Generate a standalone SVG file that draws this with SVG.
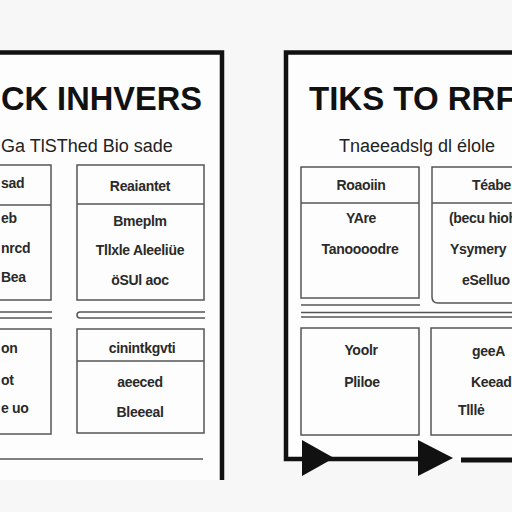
<svg xmlns="http://www.w3.org/2000/svg" width="512" height="512" viewBox="0 0 512 512">
<style>
.bx{fill:#fdfdfd;stroke:#555;stroke-width:1.5}
.ln{fill:none;stroke:#555;stroke-width:1.5}
.fr{fill:none;stroke:#111;stroke-width:4.5}
.t{font-family:"Liberation Sans",Arial,sans-serif;font-size:14px;fill:#2a2a2a;font-weight:bold;letter-spacing:-0.3px}
.h{font-family:"Liberation Sans",Arial,sans-serif;font-size:33px;font-weight:bold;fill:#111}
.s{font-family:"Liberation Sans",Arial,sans-serif;font-size:18px;fill:#222}
.m{text-anchor:middle}
.e{text-anchor:end}
</style>
<rect width="512" height="512" fill="#f7f7f7"/>
<g id="panel-left">
<rect x="0" y="52" width="222" height="428" fill="#fdfdfd"/>
<path class="fr" d="M0 52.5 H222 V480"/>
<text class="h" x="1" y="110" textLength="201" lengthAdjust="spacingAndGlyphs">CK INHVERS</text>
<text class="s" x="1" y="152">Ga TlSThed Bio sade</text>
</g>
<g id="panel-right">
<rect x="285" y="52" width="227" height="408" fill="#fdfdfd"/>
<path class="fr" d="M512 52.5 H286 V459 H300"/>
<text class="h" x="309" y="110">TIKS TO RRF</text>
<text class="s" x="339" y="152">Tnaeeadslg dl élole</text>
</g>
<g id="box-a">
<rect class="bx" x="-10" y="165" width="61" height="135"/>
<line class="ln" x1="-10" y1="205" x2="51" y2="205"/>
<text class="t" x="1" y="188">sad</text>
<text class="t" x="1" y="223">eb</text>
<text class="t" x="1" y="253">nrcd</text>
<text class="t" x="1" y="282">Bea</text>
</g>
<g id="box-b">
<rect class="bx" x="77" y="165" width="127" height="135"/>
<line class="ln" x1="77" y1="204" x2="204" y2="204"/>
<text class="t m" x="140" y="191">Reaiantet</text>
<text class="t m" x="140" y="226">Bmeplm</text>
<text class="t m" x="140" y="255">Tllxle Aleeliüe</text>
<text class="t m" x="140" y="285">öSUl aoc</text>
</g>
<g id="box-c">
<rect class="bx" x="-10" y="329" width="61" height="105"/>
<text class="t" x="1" y="353">on</text>
<text class="t" x="1" y="385">ot</text>
<text class="t" x="1" y="413">e uo</text>
</g>
<g id="box-d">
<rect class="bx" x="77" y="329" width="127" height="104"/>
<line class="ln" x1="77" y1="361" x2="204" y2="361"/>
<text class="t m" x="142" y="353">cinintkgvti</text>
<text class="t m" x="140" y="387">aeeced</text>
<text class="t m" x="140" y="417">Bleeeal</text>
</g>
<g id="box-e">
<rect class="bx" x="301" y="167" width="118" height="131"/>
<line class="ln" x1="301" y1="203" x2="419" y2="203"/>
<text class="t m" x="361" y="190">Roaoiin</text>
<text class="t m" x="361" y="223">YAre</text>
<text class="t m" x="360" y="254">Tanoooodre</text>
</g>
<g id="box-f">
<path class="bx" d="M520 167 H432 V297 Q432 303 438 303 H520"/>
<line class="ln" x1="432" y1="203" x2="512" y2="203"/>
<text class="t" x="472" y="190">Téabe</text>
<text class="t" x="449" y="223">(becu hioh</text>
<text class="t" x="450" y="254">Ysymery</text>
<text class="t" x="462" y="285">eSelluo</text>
</g>
<g id="box-g">
<rect class="bx" x="301" y="328" width="118" height="107"/>
<text class="t m" x="361" y="355">Yoolr</text>
<text class="t m" x="362" y="387">Pliloe</text>
</g>
<g id="box-h">
<path class="bx" d="M520 328 H431 V435 H520"/>
<text class="t" x="472" y="356">geeA</text>
<text class="t" x="471" y="387">Keead</text>
<text class="t" x="458" y="415">Tlllė</text>
</g>
<g id="connectors">
<path class="ln" d="M0 312 H52 M0 318 H52"/>
<path class="ln" d="M205 312 H80 Q77 312 77 315 Q77 318 80 318 H205"/>
<line class="ln" x1="0" y1="459" x2="203" y2="459"/>
<line class="ln" x1="301" y1="305" x2="420" y2="305"/>
<path class="ln" d="M301 312.5 H512 M301 317 H512"/>
<line x1="300" y1="459" x2="420" y2="459" stroke="#111" stroke-width="4.5"/>
<polygon points="302,440 334,458 302,476" fill="#111"/>
<polygon points="418,440 453,458 418,476" fill="#111"/>
<line x1="461" y1="460" x2="512" y2="460" stroke="#111" stroke-width="5"/>
</g>
</svg>
